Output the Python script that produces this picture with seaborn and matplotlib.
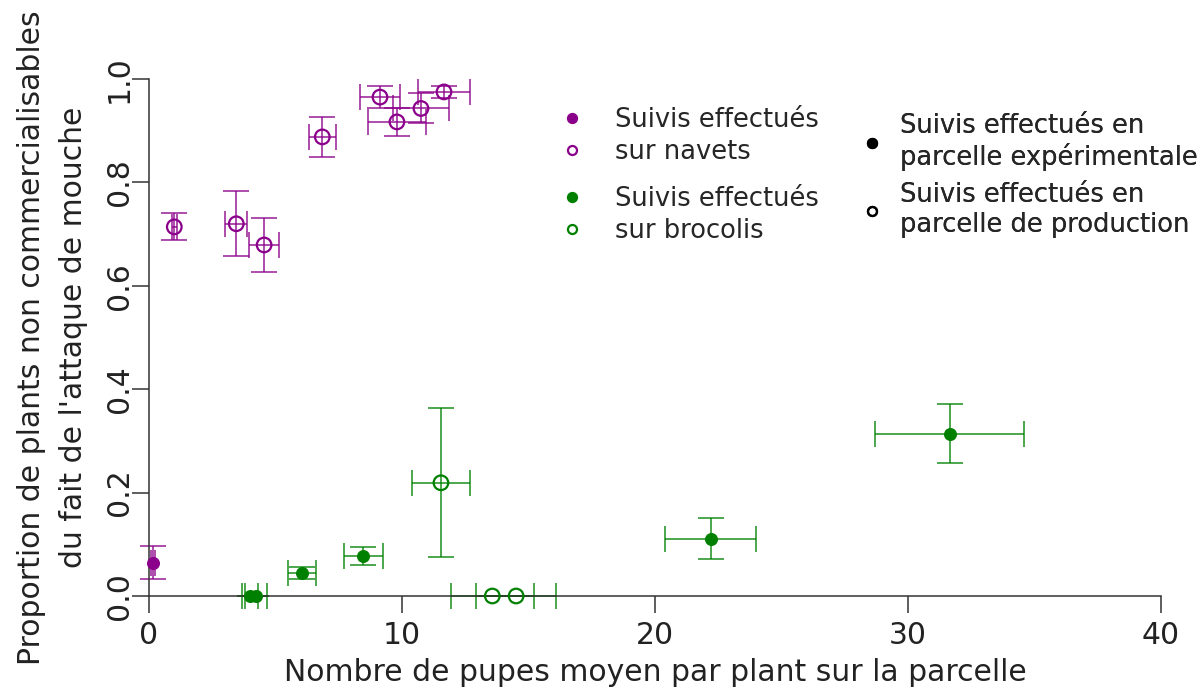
import matplotlib
matplotlib.use("Agg")
import matplotlib.pyplot as plt
from matplotlib.lines import Line2D
import numpy as np
import pandas as pd
import seaborn as sns

# Turnip monitoring (navets)
navets_x = [0.17, 1.00, 3.45, 4.55, 6.85, 9.13, 9.80, 10.75, 11.66]
navets_y = [0.064, 0.714, 0.720, 0.679, 0.888, 0.965, 0.917, 0.943, 0.975]
navets_xerr = [0.08, 0.10, 0.43, 0.60, 0.53, 0.80, 1.14, 1.10, 1.04]
navets_yerr = [0.032, 0.026, 0.063, 0.052, 0.038, 0.021, 0.027, 0.029, 0.012]
navets_parcelle = ["exp", "prod", "prod", "prod", "prod", "prod", "prod", "prod", "prod"]

# Broccoli monitoring (brocolis)
brocolis_x = [3.99, 4.23, 6.06, 8.46, 22.2, 31.65, 11.54, 13.57, 14.51]
brocolis_y = [0.0, 0.0, 0.045, 0.077, 0.111, 0.314, 0.219, 0.0, 0.0]
brocolis_xerr = [0.30, 0.42, 0.55, 0.77, 1.79, 2.95, 1.14, 1.63, 1.58]
brocolis_yerr = [0.0, 0.0, 0.012, 0.018, 0.040, 0.057, 0.144, 0.0, 0.0]
brocolis_parcelle = ["exp", "exp", "exp", "exp", "exp", "exp", "prod", "prod", "prod"]

x_ticks = [0, 10, 20, 30, 40]
y_ticks = [0.0, 0.2, 0.4, 0.6, 0.8, 1.0]

PURPLE = "#8b008b"
GREEN = "#008000"

df = pd.concat([
    pd.DataFrame({"x": navets_x, "y": navets_y, "xerr": navets_xerr,
                  "yerr": navets_yerr, "parcelle": navets_parcelle,
                  "culture": "navets"}),
    pd.DataFrame({"x": brocolis_x, "y": brocolis_y, "xerr": brocolis_xerr,
                  "yerr": brocolis_yerr, "parcelle": brocolis_parcelle,
                  "culture": "brocolis"}),
], ignore_index=True)
colors = {"navets": PURPLE, "brocolis": GREEN}

sns.set_theme(style="ticks")
plt.rcParams["font.family"] = ["DejaVu Sans"]

fig = plt.figure(figsize=(12.03, 6.90), dpi=100)
ax = fig.add_axes([149 / 1203, 1 - 596 / 690, (1161 - 149) / 1203, (596 - 79) / 690])

# error bars (horizontal and vertical) for every survey
for culture, sub in df.groupby("culture"):
    c = colors[culture]
    ax.errorbar(sub["x"], sub["y"], xerr=sub["xerr"], yerr=sub["yerr"],
                fmt="none", ecolor=c, alpha=0.7, elinewidth=1.4,
                capsize=9.7, capthick=1.4, clip_on=False, zorder=2)

# points: filled for experimental plots, open for production plots
for (culture, parcelle), sub in df.groupby(["culture", "parcelle"]):
    c = colors[culture]
    if parcelle == "exp":
        sns.scatterplot(data=sub, x="x", y="y", color=c, edgecolor=c,
                        s=70, linewidth=1.0, ax=ax, clip_on=False, zorder=3)
    else:
        sns.scatterplot(data=sub, x="x", y="y", color=c, facecolor="none",
                        edgecolor=c, s=110, linewidth=1.6, ax=ax,
                        clip_on=False, zorder=3)

ax.set_xlim(0, 40)
ax.set_ylim(0, 1)
ax.set_xticks(x_ticks)
ax.set_yticks(y_ticks)
ax.set_xticklabels([str(t) for t in x_ticks])
ax.set_yticklabels([f"{t:.1f}" for t in y_ticks], rotation=90, va="center")
for side in ("top", "right"):
    ax.spines[side].set_visible(False)
for side in ("left", "bottom"):
    ax.spines[side].set_linewidth(1.1)
    ax.spines[side].set_color("#333333")
ax.tick_params(axis="both", length=12, width=1.1, color="#333333",
               labelsize=21.5, labelcolor="#222222")
ax.tick_params(axis="x", pad=6)
ax.tick_params(axis="y", pad=-1)

ax.set_xlabel("Nombre de pupes moyen par plant sur la parcelle",
              fontsize=21.5, color="#222222", labelpad=6)
ax.set_ylabel("Proportion de plants non commercialisables\ndu fait de l'attaque de mouche",
              fontsize=21.5, color="#222222", labelpad=12, linespacing=1.55)

def legend_block(handles, labels, anchor, spacing, pad):
    leg = ax.legend(handles, labels, loc="upper left", bbox_to_anchor=anchor,
                    bbox_transform=fig.transFigure, frameon=False,
                    fontsize=18.5, handlelength=0.6, handletextpad=pad,
                    labelspacing=spacing, borderpad=0, borderaxespad=0)
    ax.add_artist(leg)
    return leg

def h(color, filled):
    return Line2D([], [], ls="none", marker="o", markersize=6.5,
                  markerfacecolor=color if filled else "none",
                  markeredgecolor=color, markeredgewidth=1.6)

legend_block([h(PURPLE, True), h(PURPLE, False)],
             ["Suivis effectués", "sur navets"], (564 / 1203, 1 - 107 / 690),
             0.24, 1.4)
legend_block([h(GREEN, True), h(GREEN, False)],
             ["Suivis effectués", "sur brocolis"], (564 / 1203, 1 - 186 / 690),
             0.24, 1.4)
legend_block([h("black", True), h("black", False)],
             ["Suivis effectués en\nparcelle expérimentale",
              "Suivis effectués en\nparcelle de production"],
             (864 / 1203, 1 - 113 / 690), 0.42, 0.8)

fig.savefig("out.png", dpi=100)
